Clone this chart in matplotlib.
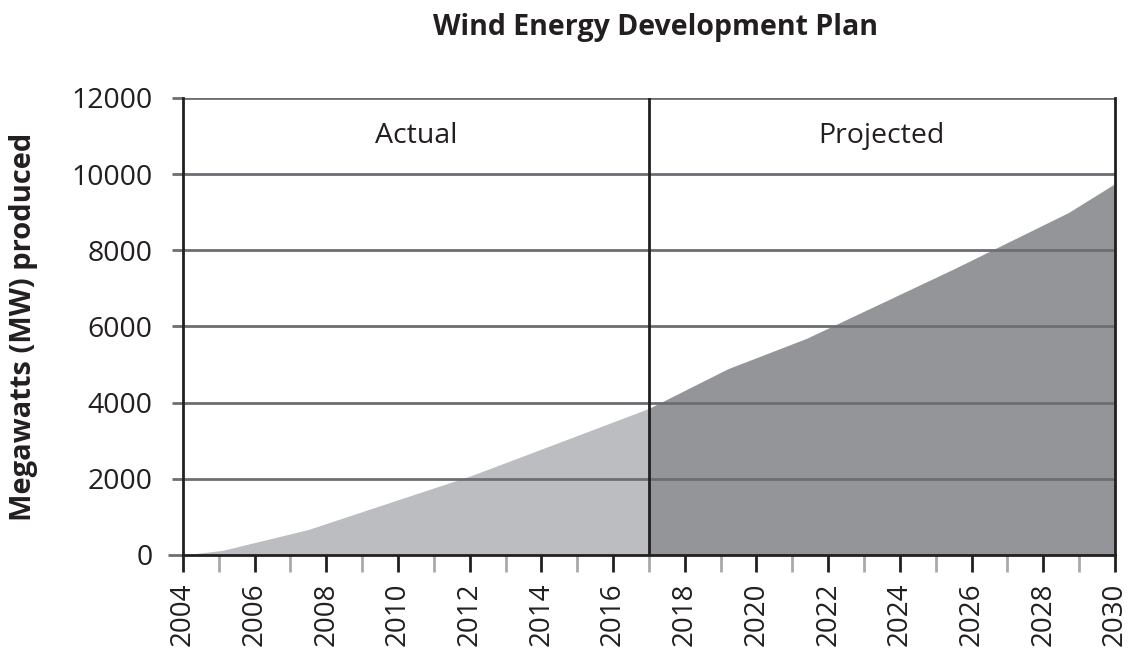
import numpy as np
import matplotlib
matplotlib.use('Agg')
import matplotlib.pyplot as plt

plt.rcParams['font.family'] = ['Open Sans', 'DejaVu Sans']

# data
actual_years = [2004, 2005.1, 2007.5, 2010, 2012, 2014, 2017]
actual_mw = [0, 120, 670, 1450, 2070, 2780, 3850]
proj_years = [2017, 2019.2, 2021.4, 2025.5, 2028.7, 2030]
proj_mw = [3850, 4890, 5690, 7510, 8990, 9750]

y_ticks = [0, 2000, 4000, 6000, 8000, 10000, 12000]
major_years = list(range(2004, 2031, 2))
minor_years = list(range(2005, 2030, 2))
split_year = 2017

light = '#bcbdc0'
dark = '#939598'
grid_col = '#6d6e71'
ink = '#231f20'

fig = plt.figure(figsize=(11.28, 6.51), dpi=100)
ax = fig.add_axes([0.1622, 0.1475, 0.8262, 0.7020])

ax.fill_between(actual_years, actual_mw, 0, color=light, lw=0, zorder=1)
ax.fill_between(proj_years, proj_mw, 0, color=dark, lw=0, zorder=1)

for v in y_ticks[1:]:
    ax.axhline(v, color=grid_col, lw=2, zorder=3)
ax.axvline(split_year, color=ink, lw=2, zorder=4)

ax.set_xlim(2004, 2030)
ax.set_ylim(0, 12000)

for s in ['left', 'right', 'bottom']:
    ax.spines[s].set_color(ink)
    ax.spines[s].set_linewidth(2)
    ax.spines[s].set_zorder(5)
ax.spines['top'].set_visible(False)

ax.set_xticks(major_years)
ax.set_xticklabels([str(y) for y in major_years], rotation=90, fontsize=20, color=ink)
ax.set_xticks(minor_years, minor=True)
ax.tick_params(axis='x', which='major', length=12, width=2, color=ink, pad=8)
ax.tick_params(axis='x', which='minor', length=12, width=2, color='#a7a9ac')

ax.set_yticks(y_ticks)
ax.set_yticklabels([str(v) for v in y_ticks], fontsize=20.5, color=ink)
ax.tick_params(axis='y', length=8, width=2, color=grid_col, pad=14)
ax.get_yticklines()[0].set_color(ink)
ax.get_yticklines()[0].set_markersize(11)

ax.text(2010.5, 11000, 'Actual', ha='center', va='center', fontsize=20.5, color=ink)
ax.text(2023.5, 11000, 'Projected', ha='center', va='center', fontsize=20.5, color=ink)

ax.set_ylabel('Megawatts (MW) produced', fontsize=21, fontweight='bold', color=ink, labelpad=24)
fig.text(0.5807, 0.9585, 'Wind Energy Development Plan', ha='center', va='center',
         fontsize=20.5, fontweight='bold', color=ink)

fig.savefig('out.png', dpi=100)
